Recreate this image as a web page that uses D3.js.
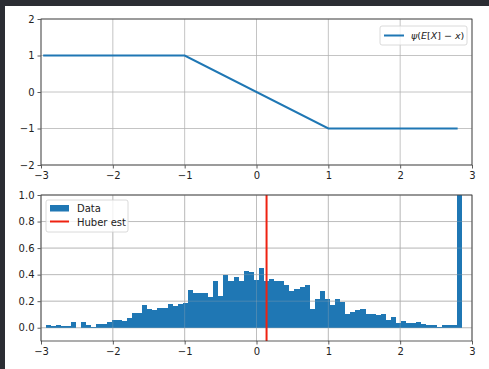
<!DOCTYPE html>
<html>
<head>
<meta charset="utf-8">
<script src="https://cdn.jsdelivr.net/npm/d3@7"></script>
<style>
  html, body { margin: 0; padding: 0; background: #2b2d33; }
  svg { display: block; }
  text { font-family: "DejaVu Sans", sans-serif; }
</style>
</head>
<body>
<div id="chart-container"></div>
<script>
// top panel: psi(E[X] - x) curve
const psiX = [-2.97, -1, 1, 2.8];
const psiY = [1, 1, -1, -1];

// bottom panel: histogram (82 equal bins) + Huber estimate
const histStart = -2.935;
const histEnd = 2.861;
const histValues = [
  0.02, 0.01, 0.02, 0.015, 0.01, 0.04, 0.0, 0.04, 0.02, 0.005,
  0.03, 0.03, 0.045, 0.06, 0.06, 0.05, 0.075, 0.11, 0.11, 0.175,
  0.14, 0.135, 0.15, 0.145, 0.18, 0.165, 0.18, 0.19, 0.285, 0.26,
  0.265, 0.265, 0.235, 0.35, 0.24, 0.395, 0.355, 0.385, 0.35, 0.425,
  0.42, 0.36, 0.45, 0.355, 0.37, 0.35, 0.35, 0.32, 0.28, 0.29,
  0.305, 0.32, 0.14, 0.215, 0.28, 0.215, 0.175, 0.215, 0.195, 0.105,
  0.115, 0.13, 0.14, 0.105, 0.105, 0.095, 0.105, 0.055, 0.08, 0.035,
  0.05, 0.035, 0.035, 0.04, 0.025, 0.02, 0.02, 0.005, 0.02, 0.02,
  0.02, 1.2
];
const huberEst = 0.14;

const xTicks = [-3, -2, -1, 0, 1, 2, 3];
const topYTicks = [-2, -1, 0, 1, 2];
const botYTicks = [0.0, 0.2, 0.4, 0.6, 0.8, 1.0];

const W = 489, H = 369;
const blue = "#1f77b4";
const gridColor = "rgba(176,176,176,0.75)";
const spine = "#333";

const svg = d3.select("#chart-container")
  .append("svg")
  .attr("width", W)
  .attr("height", H);

// white figure area on dark page
svg.append("rect").attr("x", 5).attr("y", 6).attr("width", W - 5).attr("height", H - 6).attr("fill", "#fff");

function makeAxes(top, bottom, yDomain, yTicks, yFmt, id) {
  const x = d3.scaleLinear().domain([-3, 3]).range([41, 472]);
  const y = d3.scaleLinear().domain(yDomain).range([bottom, top]);

  svg.append("clipPath").attr("id", id)
    .append("rect").attr("x", 41).attr("y", top).attr("width", 431).attr("height", bottom - top);

  const xAxis = svg.append("g")
    .attr("transform", `translate(0,${bottom})`)
    .call(d3.axisBottom(x).tickValues(xTicks).tickFormat(d3.format("d")).tickSize(3.5).tickPadding(3));
  const yAxis = svg.append("g")
    .attr("transform", "translate(41,0)")
    .call(d3.axisLeft(y).tickValues(yTicks).tickFormat(yFmt).tickSize(3.5).tickPadding(3));
  [xAxis, yAxis].forEach(a => {
    a.select(".domain").remove();
    a.selectAll(".tick line").attr("stroke", spine).attr("stroke-width", 0.8);
    a.selectAll("text").attr("fill", "#222").style("font-size", "10px");
  });

  return { x, y, top, bottom };
}

function drawGrid(ax, yTicks, color) {
  const { x, y, top, bottom } = ax;
  const grid = svg.append("g");
  grid.selectAll(".gx").data(xTicks).join("line")
    .attr("x1", d => x(d)).attr("x2", d => x(d))
    .attr("y1", top).attr("y2", bottom)
    .attr("stroke", color).attr("stroke-width", 1);
  grid.selectAll(".gy").data(yTicks).join("line")
    .attr("x1", 41).attr("x2", 472)
    .attr("y1", d => y(d)).attr("y2", d => y(d))
    .attr("stroke", color).attr("stroke-width", 1);
}

function frame(ax) {
  svg.append("rect")
    .attr("x", 41).attr("y", ax.top)
    .attr("width", 431).attr("height", ax.bottom - ax.top)
    .attr("fill", "none").attr("stroke", spine).attr("stroke-width", 0.8);
}

// ---- top panel ----
const a1 = makeAxes(19, 165, [-2, 2], topYTicks, d3.format("d"), "clip1");
drawGrid(a1, topYTicks, gridColor);
const psiData = psiX.map((v, i) => ({ x: v, y: psiY[i] }));
svg.append("path")
  .datum(psiData)
  .attr("fill", "none")
  .attr("stroke", blue)
  .attr("stroke-width", 2)
  .attr("d", d3.line().x(d => a1.x(d.x)).y(d => a1.y(d.y)));
frame(a1);

// legend top
const lg1 = svg.append("g");
lg1.append("rect").attr("x", 380).attr("y", 26).attr("width", 87).attr("height", 19)
  .attr("rx", 2).attr("fill", "rgba(255,255,255,0.8)").attr("stroke", "#d0d0d0").attr("stroke-width", 0.8);
lg1.append("line").attr("x1", 384).attr("x2", 404).attr("y1", 35.5).attr("y2", 35.5)
  .attr("stroke", blue).attr("stroke-width", 2);
const t1 = lg1.append("text").attr("x", 411).attr("y", 39).attr("fill", "#222").style("font-size", "9.5px");
t1.append("tspan").attr("font-style", "italic").text("ψ");
t1.append("tspan").text("(");
t1.append("tspan").attr("font-style", "italic").text("E");
t1.append("tspan").text("[");
t1.append("tspan").attr("font-style", "italic").text("X");
t1.append("tspan").text("] − ");
t1.append("tspan").attr("font-style", "italic").text("x");
t1.append("tspan").text(")");

// ---- bottom panel ----
const a2 = makeAxes(195, 341, [-0.1, 1.0], botYTicks, d3.format(".1f"), "clip2");
drawGrid(a2, botYTicks, gridColor);
const binW = (histEnd - histStart) / histValues.length;
svg.append("g").attr("clip-path", "url(#clip2)")
  .attr("shape-rendering", "crispEdges")
  .selectAll("rect").data(histValues).join("rect")
  .attr("x", (d, i) => Math.round(a2.x(histStart + i * binW)))
  .attr("width", (d, i) => Math.round(a2.x(histStart + (i + 1) * binW)) - Math.round(a2.x(histStart + i * binW)))
  .attr("y", d => a2.y(d))
  .attr("height", d => a2.y(0) - a2.y(d))
  .attr("fill", blue);
// faint grid showing through the bars
drawGrid(a2, botYTicks, "rgba(176,176,176,0.3)");
svg.append("line")
  .attr("x1", a2.x(huberEst)).attr("x2", a2.x(huberEst))
  .attr("y1", 195).attr("y2", 341)
  .attr("stroke", "#ee2211").attr("stroke-width", 2);
frame(a2);

// legend bottom
const lg2 = svg.append("g");
lg2.append("rect").attr("x", 46).attr("y", 200).attr("width", 82).attr("height", 32)
  .attr("rx", 2).attr("fill", "rgba(255,255,255,0.8)").attr("stroke", "#d0d0d0").attr("stroke-width", 0.8);
lg2.append("rect").attr("x", 50).attr("y", 205).attr("width", 19).attr("height", 6.5).attr("fill", blue);
lg2.append("text").attr("x", 77).attr("y", 212).attr("fill", "#222").style("font-size", "10px").text("Data");
lg2.append("line").attr("x1", 50).attr("x2", 69).attr("y1", 221.5).attr("y2", 221.5)
  .attr("stroke", "#ee2211").attr("stroke-width", 2);
lg2.append("text").attr("x", 77).attr("y", 225.5).attr("fill", "#222").style("font-size", "10px").text("Huber est");
</script>
</body>
</html>
